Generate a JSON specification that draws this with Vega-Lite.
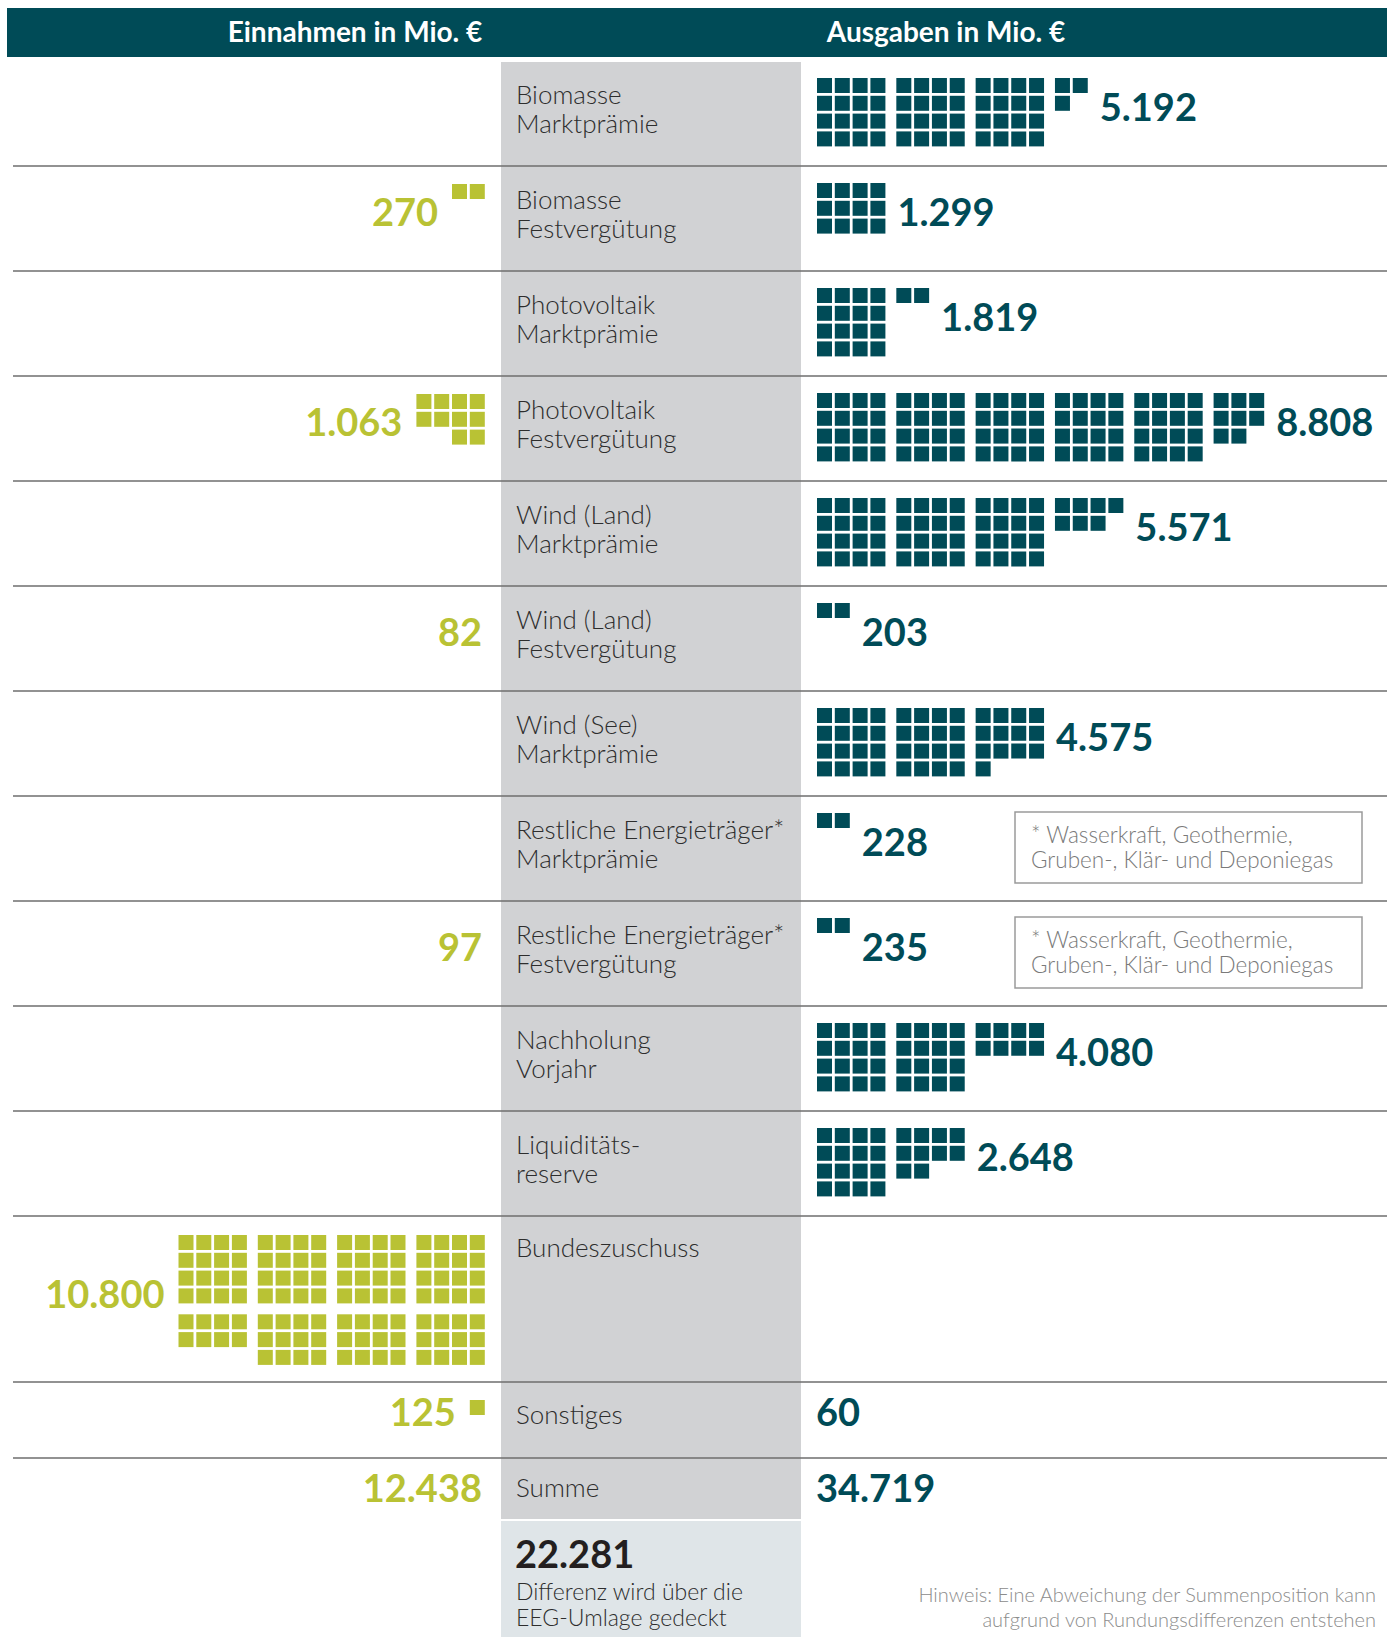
{
"$schema":"https://vega.github.io/schema/vega-lite/v6.json",
"padding":0,
"spacing":0,
"background":"white",
"config":{"view":{"stroke":null},"font":"Lato","concat":{"spacing":0},"facet":{"spacing":0},"locale":{"number":{"decimal":",","thousands":".","grouping":[3],"currency":["","€"]}}},
"datasets":{
"d":[
{"t":"head","k":"HEAD","h":"Einnahmen in Mio. €"},{"t":"head","k":"HEAD","h":"Ausgaben in Mio. €"},
{"t":"lab","k":"BMM","lab":"Biomasse\nMarktprämie","aus":5192},
{"t":"lab","k":"BMF","lab":"Biomasse\nFestvergütung","ein":270,"aus":1299},
{"t":"lab","k":"PVM","lab":"Photovoltaik\nMarktprämie","aus":1819},
{"t":"lab","k":"PVF","lab":"Photovoltaik\nFestvergütung","ein":1063,"aus":8808},
{"t":"lab","k":"WLM","lab":"Wind (Land)\nMarktprämie","aus":5571},
{"t":"lab","k":"WLF","lab":"Wind (Land)\nFestvergütung","ein":82,"aus":203},
{"t":"lab","k":"WSM","lab":"Wind (See)\nMarktprämie","aus":4575},
{"t":"lab","k":"REM","lab":"Restliche Energieträger*\nMarktprämie","aus":228,"note":"* Wasserkraft, Geothermie,\nGruben-, Klär- und Deponiegas"},
{"t":"lab","k":"REF","lab":"Restliche Energieträger*\nFestvergütung","ein":97,"aus":235,"note":"* Wasserkraft, Geothermie,\nGruben-, Klär- und Deponiegas"},
{"t":"lab","k":"NV","lab":"Nachholung\nVorjahr","aus":4080},
{"t":"lab","k":"LR","lab":" Liquiditäts-\n reserve","aus":2648},
{"t":"lab","k":"BZ","lab":"Bundeszuschuss","ein":10800},
{"t":"lab","k":"SON","lab":"Sonstiges","ein":125,"aus":60},
{"t":"lab","k":"SUM","lab":"Summe","ein":12438,"aus":34719},
{"t":"lab","k":"DIF","lab":"Differenz wird über die\nEEG-Umlage gedeckt","aus":22281,"note":"Hinweis: Eine Abweichung der Summenposition kann\naufgrund von Rundungsdifferenzen entstehen"},

{"k":"BMM","s":"o","b":0,"r":0,"c":0},{"k":"BMM","s":"o","b":0,"r":0,"c":1},{"k":"BMM","s":"o","b":0,"r":0,"c":2},{"k":"BMM","s":"o","b":0,"r":0,"c":3},
{"k":"BMM","s":"o","b":0,"r":1,"c":0},{"k":"BMM","s":"o","b":0,"r":1,"c":1},{"k":"BMM","s":"o","b":0,"r":1,"c":2},{"k":"BMM","s":"o","b":0,"r":1,"c":3},
{"k":"BMM","s":"o","b":0,"r":2,"c":0},{"k":"BMM","s":"o","b":0,"r":2,"c":1},{"k":"BMM","s":"o","b":0,"r":2,"c":2},{"k":"BMM","s":"o","b":0,"r":2,"c":3},
{"k":"BMM","s":"o","b":0,"r":3,"c":0},{"k":"BMM","s":"o","b":0,"r":3,"c":1},{"k":"BMM","s":"o","b":0,"r":3,"c":2},{"k":"BMM","s":"o","b":0,"r":3,"c":3},
{"k":"BMM","s":"o","b":1,"r":0,"c":0},{"k":"BMM","s":"o","b":1,"r":0,"c":1},{"k":"BMM","s":"o","b":1,"r":0,"c":2},{"k":"BMM","s":"o","b":1,"r":0,"c":3},
{"k":"BMM","s":"o","b":1,"r":1,"c":0},{"k":"BMM","s":"o","b":1,"r":1,"c":1},{"k":"BMM","s":"o","b":1,"r":1,"c":2},{"k":"BMM","s":"o","b":1,"r":1,"c":3},
{"k":"BMM","s":"o","b":1,"r":2,"c":0},{"k":"BMM","s":"o","b":1,"r":2,"c":1},{"k":"BMM","s":"o","b":1,"r":2,"c":2},{"k":"BMM","s":"o","b":1,"r":2,"c":3},
{"k":"BMM","s":"o","b":1,"r":3,"c":0},{"k":"BMM","s":"o","b":1,"r":3,"c":1},{"k":"BMM","s":"o","b":1,"r":3,"c":2},{"k":"BMM","s":"o","b":1,"r":3,"c":3},
{"k":"BMM","s":"o","b":2,"r":0,"c":0},{"k":"BMM","s":"o","b":2,"r":0,"c":1},{"k":"BMM","s":"o","b":2,"r":0,"c":2},{"k":"BMM","s":"o","b":2,"r":0,"c":3},
{"k":"BMM","s":"o","b":2,"r":1,"c":0},{"k":"BMM","s":"o","b":2,"r":1,"c":1},{"k":"BMM","s":"o","b":2,"r":1,"c":2},{"k":"BMM","s":"o","b":2,"r":1,"c":3},
{"k":"BMM","s":"o","b":2,"r":2,"c":0},{"k":"BMM","s":"o","b":2,"r":2,"c":1},{"k":"BMM","s":"o","b":2,"r":2,"c":2},{"k":"BMM","s":"o","b":2,"r":2,"c":3},
{"k":"BMM","s":"o","b":2,"r":3,"c":0},{"k":"BMM","s":"o","b":2,"r":3,"c":1},{"k":"BMM","s":"o","b":2,"r":3,"c":2},{"k":"BMM","s":"o","b":2,"r":3,"c":3},
{"k":"BMM","s":"o","b":3,"r":0,"c":0},{"k":"BMM","s":"o","b":3,"r":0,"c":1},{"k":"BMM","s":"o","b":3,"r":1,"c":0},

{"k":"BMF","s":"o","b":0,"r":0,"c":0},{"k":"BMF","s":"o","b":0,"r":0,"c":1},{"k":"BMF","s":"o","b":0,"r":0,"c":2},{"k":"BMF","s":"o","b":0,"r":0,"c":3},
{"k":"BMF","s":"o","b":0,"r":1,"c":0},{"k":"BMF","s":"o","b":0,"r":1,"c":1},{"k":"BMF","s":"o","b":0,"r":1,"c":2},{"k":"BMF","s":"o","b":0,"r":1,"c":3},
{"k":"BMF","s":"o","b":0,"r":2,"c":0},{"k":"BMF","s":"o","b":0,"r":2,"c":1},{"k":"BMF","s":"o","b":0,"r":2,"c":2},{"k":"BMF","s":"o","b":0,"r":2,"c":3},

{"k":"PVM","s":"o","b":0,"r":0,"c":0},{"k":"PVM","s":"o","b":0,"r":0,"c":1},{"k":"PVM","s":"o","b":0,"r":0,"c":2},{"k":"PVM","s":"o","b":0,"r":0,"c":3},
{"k":"PVM","s":"o","b":0,"r":1,"c":0},{"k":"PVM","s":"o","b":0,"r":1,"c":1},{"k":"PVM","s":"o","b":0,"r":1,"c":2},{"k":"PVM","s":"o","b":0,"r":1,"c":3},
{"k":"PVM","s":"o","b":0,"r":2,"c":0},{"k":"PVM","s":"o","b":0,"r":2,"c":1},{"k":"PVM","s":"o","b":0,"r":2,"c":2},{"k":"PVM","s":"o","b":0,"r":2,"c":3},
{"k":"PVM","s":"o","b":0,"r":3,"c":0},{"k":"PVM","s":"o","b":0,"r":3,"c":1},{"k":"PVM","s":"o","b":0,"r":3,"c":2},{"k":"PVM","s":"o","b":0,"r":3,"c":3},
{"k":"PVM","s":"o","b":1,"r":0,"c":0},{"k":"PVM","s":"o","b":1,"r":0,"c":1},

{"k":"PVF","s":"o","b":0,"r":0,"c":0},{"k":"PVF","s":"o","b":0,"r":0,"c":1},{"k":"PVF","s":"o","b":0,"r":0,"c":2},{"k":"PVF","s":"o","b":0,"r":0,"c":3},
{"k":"PVF","s":"o","b":0,"r":1,"c":0},{"k":"PVF","s":"o","b":0,"r":1,"c":1},{"k":"PVF","s":"o","b":0,"r":1,"c":2},{"k":"PVF","s":"o","b":0,"r":1,"c":3},
{"k":"PVF","s":"o","b":0,"r":2,"c":0},{"k":"PVF","s":"o","b":0,"r":2,"c":1},{"k":"PVF","s":"o","b":0,"r":2,"c":2},{"k":"PVF","s":"o","b":0,"r":2,"c":3},
{"k":"PVF","s":"o","b":0,"r":3,"c":0},{"k":"PVF","s":"o","b":0,"r":3,"c":1},{"k":"PVF","s":"o","b":0,"r":3,"c":2},{"k":"PVF","s":"o","b":0,"r":3,"c":3},
{"k":"PVF","s":"o","b":1,"r":0,"c":0},{"k":"PVF","s":"o","b":1,"r":0,"c":1},{"k":"PVF","s":"o","b":1,"r":0,"c":2},{"k":"PVF","s":"o","b":1,"r":0,"c":3},
{"k":"PVF","s":"o","b":1,"r":1,"c":0},{"k":"PVF","s":"o","b":1,"r":1,"c":1},{"k":"PVF","s":"o","b":1,"r":1,"c":2},{"k":"PVF","s":"o","b":1,"r":1,"c":3},
{"k":"PVF","s":"o","b":1,"r":2,"c":0},{"k":"PVF","s":"o","b":1,"r":2,"c":1},{"k":"PVF","s":"o","b":1,"r":2,"c":2},{"k":"PVF","s":"o","b":1,"r":2,"c":3},
{"k":"PVF","s":"o","b":1,"r":3,"c":0},{"k":"PVF","s":"o","b":1,"r":3,"c":1},{"k":"PVF","s":"o","b":1,"r":3,"c":2},{"k":"PVF","s":"o","b":1,"r":3,"c":3},
{"k":"PVF","s":"o","b":2,"r":0,"c":0},{"k":"PVF","s":"o","b":2,"r":0,"c":1},{"k":"PVF","s":"o","b":2,"r":0,"c":2},{"k":"PVF","s":"o","b":2,"r":0,"c":3},
{"k":"PVF","s":"o","b":2,"r":1,"c":0},{"k":"PVF","s":"o","b":2,"r":1,"c":1},{"k":"PVF","s":"o","b":2,"r":1,"c":2},{"k":"PVF","s":"o","b":2,"r":1,"c":3},
{"k":"PVF","s":"o","b":2,"r":2,"c":0},{"k":"PVF","s":"o","b":2,"r":2,"c":1},{"k":"PVF","s":"o","b":2,"r":2,"c":2},{"k":"PVF","s":"o","b":2,"r":2,"c":3},
{"k":"PVF","s":"o","b":2,"r":3,"c":0},{"k":"PVF","s":"o","b":2,"r":3,"c":1},{"k":"PVF","s":"o","b":2,"r":3,"c":2},{"k":"PVF","s":"o","b":2,"r":3,"c":3},
{"k":"PVF","s":"o","b":3,"r":0,"c":0},{"k":"PVF","s":"o","b":3,"r":0,"c":1},{"k":"PVF","s":"o","b":3,"r":0,"c":2},{"k":"PVF","s":"o","b":3,"r":0,"c":3},
{"k":"PVF","s":"o","b":3,"r":1,"c":0},{"k":"PVF","s":"o","b":3,"r":1,"c":1},{"k":"PVF","s":"o","b":3,"r":1,"c":2},{"k":"PVF","s":"o","b":3,"r":1,"c":3},
{"k":"PVF","s":"o","b":3,"r":2,"c":0},{"k":"PVF","s":"o","b":3,"r":2,"c":1},{"k":"PVF","s":"o","b":3,"r":2,"c":2},{"k":"PVF","s":"o","b":3,"r":2,"c":3},
{"k":"PVF","s":"o","b":3,"r":3,"c":0},{"k":"PVF","s":"o","b":3,"r":3,"c":1},{"k":"PVF","s":"o","b":3,"r":3,"c":2},{"k":"PVF","s":"o","b":3,"r":3,"c":3},
{"k":"PVF","s":"o","b":4,"r":0,"c":0},{"k":"PVF","s":"o","b":4,"r":0,"c":1},{"k":"PVF","s":"o","b":4,"r":0,"c":2},{"k":"PVF","s":"o","b":4,"r":0,"c":3},
{"k":"PVF","s":"o","b":4,"r":1,"c":0},{"k":"PVF","s":"o","b":4,"r":1,"c":1},{"k":"PVF","s":"o","b":4,"r":1,"c":2},{"k":"PVF","s":"o","b":4,"r":1,"c":3},
{"k":"PVF","s":"o","b":4,"r":2,"c":0},{"k":"PVF","s":"o","b":4,"r":2,"c":1},{"k":"PVF","s":"o","b":4,"r":2,"c":2},{"k":"PVF","s":"o","b":4,"r":2,"c":3},
{"k":"PVF","s":"o","b":4,"r":3,"c":0},{"k":"PVF","s":"o","b":4,"r":3,"c":1},{"k":"PVF","s":"o","b":4,"r":3,"c":2},{"k":"PVF","s":"o","b":4,"r":3,"c":3},
{"k":"PVF","s":"o","b":5,"r":0,"c":0},{"k":"PVF","s":"o","b":5,"r":0,"c":1},{"k":"PVF","s":"o","b":5,"r":0,"c":2},
{"k":"PVF","s":"o","b":5,"r":1,"c":0},{"k":"PVF","s":"o","b":5,"r":1,"c":1},{"k":"PVF","s":"o","b":5,"r":1,"c":2},
{"k":"PVF","s":"o","b":5,"r":2,"c":0},{"k":"PVF","s":"o","b":5,"r":2,"c":1},

{"k":"WLM","s":"o","b":0,"r":0,"c":0},{"k":"WLM","s":"o","b":0,"r":0,"c":1},{"k":"WLM","s":"o","b":0,"r":0,"c":2},{"k":"WLM","s":"o","b":0,"r":0,"c":3},
{"k":"WLM","s":"o","b":0,"r":1,"c":0},{"k":"WLM","s":"o","b":0,"r":1,"c":1},{"k":"WLM","s":"o","b":0,"r":1,"c":2},{"k":"WLM","s":"o","b":0,"r":1,"c":3},
{"k":"WLM","s":"o","b":0,"r":2,"c":0},{"k":"WLM","s":"o","b":0,"r":2,"c":1},{"k":"WLM","s":"o","b":0,"r":2,"c":2},{"k":"WLM","s":"o","b":0,"r":2,"c":3},
{"k":"WLM","s":"o","b":0,"r":3,"c":0},{"k":"WLM","s":"o","b":0,"r":3,"c":1},{"k":"WLM","s":"o","b":0,"r":3,"c":2},{"k":"WLM","s":"o","b":0,"r":3,"c":3},
{"k":"WLM","s":"o","b":1,"r":0,"c":0},{"k":"WLM","s":"o","b":1,"r":0,"c":1},{"k":"WLM","s":"o","b":1,"r":0,"c":2},{"k":"WLM","s":"o","b":1,"r":0,"c":3},
{"k":"WLM","s":"o","b":1,"r":1,"c":0},{"k":"WLM","s":"o","b":1,"r":1,"c":1},{"k":"WLM","s":"o","b":1,"r":1,"c":2},{"k":"WLM","s":"o","b":1,"r":1,"c":3},
{"k":"WLM","s":"o","b":1,"r":2,"c":0},{"k":"WLM","s":"o","b":1,"r":2,"c":1},{"k":"WLM","s":"o","b":1,"r":2,"c":2},{"k":"WLM","s":"o","b":1,"r":2,"c":3},
{"k":"WLM","s":"o","b":1,"r":3,"c":0},{"k":"WLM","s":"o","b":1,"r":3,"c":1},{"k":"WLM","s":"o","b":1,"r":3,"c":2},{"k":"WLM","s":"o","b":1,"r":3,"c":3},
{"k":"WLM","s":"o","b":2,"r":0,"c":0},{"k":"WLM","s":"o","b":2,"r":0,"c":1},{"k":"WLM","s":"o","b":2,"r":0,"c":2},{"k":"WLM","s":"o","b":2,"r":0,"c":3},
{"k":"WLM","s":"o","b":2,"r":1,"c":0},{"k":"WLM","s":"o","b":2,"r":1,"c":1},{"k":"WLM","s":"o","b":2,"r":1,"c":2},{"k":"WLM","s":"o","b":2,"r":1,"c":3},
{"k":"WLM","s":"o","b":2,"r":2,"c":0},{"k":"WLM","s":"o","b":2,"r":2,"c":1},{"k":"WLM","s":"o","b":2,"r":2,"c":2},{"k":"WLM","s":"o","b":2,"r":2,"c":3},
{"k":"WLM","s":"o","b":2,"r":3,"c":0},{"k":"WLM","s":"o","b":2,"r":3,"c":1},{"k":"WLM","s":"o","b":2,"r":3,"c":2},{"k":"WLM","s":"o","b":2,"r":3,"c":3},
{"k":"WLM","s":"o","b":3,"r":0,"c":0},{"k":"WLM","s":"o","b":3,"r":0,"c":1},{"k":"WLM","s":"o","b":3,"r":0,"c":2},{"k":"WLM","s":"o","b":3,"r":0,"c":3},
{"k":"WLM","s":"o","b":3,"r":1,"c":0},{"k":"WLM","s":"o","b":3,"r":1,"c":1},{"k":"WLM","s":"o","b":3,"r":1,"c":2},

{"k":"WLF","s":"o","b":0,"r":0,"c":0},{"k":"WLF","s":"o","b":0,"r":0,"c":1},

{"k":"WSM","s":"o","b":0,"r":0,"c":0},{"k":"WSM","s":"o","b":0,"r":0,"c":1},{"k":"WSM","s":"o","b":0,"r":0,"c":2},{"k":"WSM","s":"o","b":0,"r":0,"c":3},
{"k":"WSM","s":"o","b":0,"r":1,"c":0},{"k":"WSM","s":"o","b":0,"r":1,"c":1},{"k":"WSM","s":"o","b":0,"r":1,"c":2},{"k":"WSM","s":"o","b":0,"r":1,"c":3},
{"k":"WSM","s":"o","b":0,"r":2,"c":0},{"k":"WSM","s":"o","b":0,"r":2,"c":1},{"k":"WSM","s":"o","b":0,"r":2,"c":2},{"k":"WSM","s":"o","b":0,"r":2,"c":3},
{"k":"WSM","s":"o","b":0,"r":3,"c":0},{"k":"WSM","s":"o","b":0,"r":3,"c":1},{"k":"WSM","s":"o","b":0,"r":3,"c":2},{"k":"WSM","s":"o","b":0,"r":3,"c":3},
{"k":"WSM","s":"o","b":1,"r":0,"c":0},{"k":"WSM","s":"o","b":1,"r":0,"c":1},{"k":"WSM","s":"o","b":1,"r":0,"c":2},{"k":"WSM","s":"o","b":1,"r":0,"c":3},
{"k":"WSM","s":"o","b":1,"r":1,"c":0},{"k":"WSM","s":"o","b":1,"r":1,"c":1},{"k":"WSM","s":"o","b":1,"r":1,"c":2},{"k":"WSM","s":"o","b":1,"r":1,"c":3},
{"k":"WSM","s":"o","b":1,"r":2,"c":0},{"k":"WSM","s":"o","b":1,"r":2,"c":1},{"k":"WSM","s":"o","b":1,"r":2,"c":2},{"k":"WSM","s":"o","b":1,"r":2,"c":3},
{"k":"WSM","s":"o","b":1,"r":3,"c":0},{"k":"WSM","s":"o","b":1,"r":3,"c":1},{"k":"WSM","s":"o","b":1,"r":3,"c":2},{"k":"WSM","s":"o","b":1,"r":3,"c":3},
{"k":"WSM","s":"o","b":2,"r":0,"c":0},{"k":"WSM","s":"o","b":2,"r":0,"c":1},{"k":"WSM","s":"o","b":2,"r":0,"c":2},{"k":"WSM","s":"o","b":2,"r":0,"c":3},
{"k":"WSM","s":"o","b":2,"r":1,"c":0},{"k":"WSM","s":"o","b":2,"r":1,"c":1},{"k":"WSM","s":"o","b":2,"r":1,"c":2},{"k":"WSM","s":"o","b":2,"r":1,"c":3},
{"k":"WSM","s":"o","b":2,"r":2,"c":0},{"k":"WSM","s":"o","b":2,"r":2,"c":1},{"k":"WSM","s":"o","b":2,"r":2,"c":2},{"k":"WSM","s":"o","b":2,"r":2,"c":3},
{"k":"WSM","s":"o","b":2,"r":3,"c":0},

{"k":"REM","s":"o","b":0,"r":0,"c":0},{"k":"REM","s":"o","b":0,"r":0,"c":1},
{"k":"REF","s":"o","b":0,"r":0,"c":0},{"k":"REF","s":"o","b":0,"r":0,"c":1},

{"k":"NV","s":"o","b":0,"r":0,"c":0},{"k":"NV","s":"o","b":0,"r":0,"c":1},{"k":"NV","s":"o","b":0,"r":0,"c":2},{"k":"NV","s":"o","b":0,"r":0,"c":3},
{"k":"NV","s":"o","b":0,"r":1,"c":0},{"k":"NV","s":"o","b":0,"r":1,"c":1},{"k":"NV","s":"o","b":0,"r":1,"c":2},{"k":"NV","s":"o","b":0,"r":1,"c":3},
{"k":"NV","s":"o","b":0,"r":2,"c":0},{"k":"NV","s":"o","b":0,"r":2,"c":1},{"k":"NV","s":"o","b":0,"r":2,"c":2},{"k":"NV","s":"o","b":0,"r":2,"c":3},
{"k":"NV","s":"o","b":0,"r":3,"c":0},{"k":"NV","s":"o","b":0,"r":3,"c":1},{"k":"NV","s":"o","b":0,"r":3,"c":2},{"k":"NV","s":"o","b":0,"r":3,"c":3},
{"k":"NV","s":"o","b":1,"r":0,"c":0},{"k":"NV","s":"o","b":1,"r":0,"c":1},{"k":"NV","s":"o","b":1,"r":0,"c":2},{"k":"NV","s":"o","b":1,"r":0,"c":3},
{"k":"NV","s":"o","b":1,"r":1,"c":0},{"k":"NV","s":"o","b":1,"r":1,"c":1},{"k":"NV","s":"o","b":1,"r":1,"c":2},{"k":"NV","s":"o","b":1,"r":1,"c":3},
{"k":"NV","s":"o","b":1,"r":2,"c":0},{"k":"NV","s":"o","b":1,"r":2,"c":1},{"k":"NV","s":"o","b":1,"r":2,"c":2},{"k":"NV","s":"o","b":1,"r":2,"c":3},
{"k":"NV","s":"o","b":1,"r":3,"c":0},{"k":"NV","s":"o","b":1,"r":3,"c":1},{"k":"NV","s":"o","b":1,"r":3,"c":2},{"k":"NV","s":"o","b":1,"r":3,"c":3},
{"k":"NV","s":"o","b":2,"r":0,"c":0},{"k":"NV","s":"o","b":2,"r":0,"c":1},{"k":"NV","s":"o","b":2,"r":0,"c":2},{"k":"NV","s":"o","b":2,"r":0,"c":3},
{"k":"NV","s":"o","b":2,"r":1,"c":0},{"k":"NV","s":"o","b":2,"r":1,"c":1},{"k":"NV","s":"o","b":2,"r":1,"c":2},{"k":"NV","s":"o","b":2,"r":1,"c":3},

{"k":"LR","s":"o","b":0,"r":0,"c":0},{"k":"LR","s":"o","b":0,"r":0,"c":1},{"k":"LR","s":"o","b":0,"r":0,"c":2},{"k":"LR","s":"o","b":0,"r":0,"c":3},
{"k":"LR","s":"o","b":0,"r":1,"c":0},{"k":"LR","s":"o","b":0,"r":1,"c":1},{"k":"LR","s":"o","b":0,"r":1,"c":2},{"k":"LR","s":"o","b":0,"r":1,"c":3},
{"k":"LR","s":"o","b":0,"r":2,"c":0},{"k":"LR","s":"o","b":0,"r":2,"c":1},{"k":"LR","s":"o","b":0,"r":2,"c":2},{"k":"LR","s":"o","b":0,"r":2,"c":3},
{"k":"LR","s":"o","b":0,"r":3,"c":0},{"k":"LR","s":"o","b":0,"r":3,"c":1},{"k":"LR","s":"o","b":0,"r":3,"c":2},{"k":"LR","s":"o","b":0,"r":3,"c":3},
{"k":"LR","s":"o","b":1,"r":0,"c":0},{"k":"LR","s":"o","b":1,"r":0,"c":1},{"k":"LR","s":"o","b":1,"r":0,"c":2},{"k":"LR","s":"o","b":1,"r":0,"c":3},
{"k":"LR","s":"o","b":1,"r":1,"c":0},{"k":"LR","s":"o","b":1,"r":1,"c":1},{"k":"LR","s":"o","b":1,"r":1,"c":2},{"k":"LR","s":"o","b":1,"r":1,"c":3},
{"k":"LR","s":"o","b":1,"r":2,"c":0},{"k":"LR","s":"o","b":1,"r":2,"c":1},

{"k":"BMF","s":"i","b":0,"r":0,"c":2},{"k":"BMF","s":"i","b":0,"r":0,"c":3},

{"k":"PVF","s":"i","b":0,"r":0,"c":0},{"k":"PVF","s":"i","b":0,"r":0,"c":1},{"k":"PVF","s":"i","b":0,"r":0,"c":2},{"k":"PVF","s":"i","b":0,"r":0,"c":3},
{"k":"PVF","s":"i","b":0,"r":1,"c":0},{"k":"PVF","s":"i","b":0,"r":1,"c":1},{"k":"PVF","s":"i","b":0,"r":1,"c":2},{"k":"PVF","s":"i","b":0,"r":1,"c":3},
{"k":"PVF","s":"i","b":0,"r":2,"c":2},{"k":"PVF","s":"i","b":0,"r":2,"c":3},

{"k":"BZ","s":"i","g":0,"b":0,"r":0,"c":0},{"k":"BZ","s":"i","g":0,"b":0,"r":0,"c":1},{"k":"BZ","s":"i","g":0,"b":0,"r":0,"c":2},{"k":"BZ","s":"i","g":0,"b":0,"r":0,"c":3},
{"k":"BZ","s":"i","g":0,"b":0,"r":1,"c":0},{"k":"BZ","s":"i","g":0,"b":0,"r":1,"c":1},{"k":"BZ","s":"i","g":0,"b":0,"r":1,"c":2},{"k":"BZ","s":"i","g":0,"b":0,"r":1,"c":3},
{"k":"BZ","s":"i","g":0,"b":0,"r":2,"c":0},{"k":"BZ","s":"i","g":0,"b":0,"r":2,"c":1},{"k":"BZ","s":"i","g":0,"b":0,"r":2,"c":2},{"k":"BZ","s":"i","g":0,"b":0,"r":2,"c":3},
{"k":"BZ","s":"i","g":0,"b":0,"r":3,"c":0},{"k":"BZ","s":"i","g":0,"b":0,"r":3,"c":1},{"k":"BZ","s":"i","g":0,"b":0,"r":3,"c":2},{"k":"BZ","s":"i","g":0,"b":0,"r":3,"c":3},
{"k":"BZ","s":"i","g":0,"b":1,"r":0,"c":0},{"k":"BZ","s":"i","g":0,"b":1,"r":0,"c":1},{"k":"BZ","s":"i","g":0,"b":1,"r":0,"c":2},{"k":"BZ","s":"i","g":0,"b":1,"r":0,"c":3},
{"k":"BZ","s":"i","g":0,"b":1,"r":1,"c":0},{"k":"BZ","s":"i","g":0,"b":1,"r":1,"c":1},{"k":"BZ","s":"i","g":0,"b":1,"r":1,"c":2},{"k":"BZ","s":"i","g":0,"b":1,"r":1,"c":3},
{"k":"BZ","s":"i","g":0,"b":1,"r":2,"c":0},{"k":"BZ","s":"i","g":0,"b":1,"r":2,"c":1},{"k":"BZ","s":"i","g":0,"b":1,"r":2,"c":2},{"k":"BZ","s":"i","g":0,"b":1,"r":2,"c":3},
{"k":"BZ","s":"i","g":0,"b":1,"r":3,"c":0},{"k":"BZ","s":"i","g":0,"b":1,"r":3,"c":1},{"k":"BZ","s":"i","g":0,"b":1,"r":3,"c":2},{"k":"BZ","s":"i","g":0,"b":1,"r":3,"c":3},
{"k":"BZ","s":"i","g":0,"b":2,"r":0,"c":0},{"k":"BZ","s":"i","g":0,"b":2,"r":0,"c":1},{"k":"BZ","s":"i","g":0,"b":2,"r":0,"c":2},{"k":"BZ","s":"i","g":0,"b":2,"r":0,"c":3},
{"k":"BZ","s":"i","g":0,"b":2,"r":1,"c":0},{"k":"BZ","s":"i","g":0,"b":2,"r":1,"c":1},{"k":"BZ","s":"i","g":0,"b":2,"r":1,"c":2},{"k":"BZ","s":"i","g":0,"b":2,"r":1,"c":3},
{"k":"BZ","s":"i","g":0,"b":2,"r":2,"c":0},{"k":"BZ","s":"i","g":0,"b":2,"r":2,"c":1},{"k":"BZ","s":"i","g":0,"b":2,"r":2,"c":2},{"k":"BZ","s":"i","g":0,"b":2,"r":2,"c":3},
{"k":"BZ","s":"i","g":0,"b":2,"r":3,"c":0},{"k":"BZ","s":"i","g":0,"b":2,"r":3,"c":1},{"k":"BZ","s":"i","g":0,"b":2,"r":3,"c":2},{"k":"BZ","s":"i","g":0,"b":2,"r":3,"c":3},
{"k":"BZ","s":"i","g":0,"b":3,"r":0,"c":0},{"k":"BZ","s":"i","g":0,"b":3,"r":0,"c":1},{"k":"BZ","s":"i","g":0,"b":3,"r":0,"c":2},{"k":"BZ","s":"i","g":0,"b":3,"r":0,"c":3},
{"k":"BZ","s":"i","g":0,"b":3,"r":1,"c":0},{"k":"BZ","s":"i","g":0,"b":3,"r":1,"c":1},{"k":"BZ","s":"i","g":0,"b":3,"r":1,"c":2},{"k":"BZ","s":"i","g":0,"b":3,"r":1,"c":3},
{"k":"BZ","s":"i","g":0,"b":3,"r":2,"c":0},{"k":"BZ","s":"i","g":0,"b":3,"r":2,"c":1},{"k":"BZ","s":"i","g":0,"b":3,"r":2,"c":2},{"k":"BZ","s":"i","g":0,"b":3,"r":2,"c":3},
{"k":"BZ","s":"i","g":0,"b":3,"r":3,"c":0},{"k":"BZ","s":"i","g":0,"b":3,"r":3,"c":1},{"k":"BZ","s":"i","g":0,"b":3,"r":3,"c":2},{"k":"BZ","s":"i","g":0,"b":3,"r":3,"c":3},
{"k":"BZ","s":"i","g":1,"b":3,"r":0,"c":0},{"k":"BZ","s":"i","g":1,"b":3,"r":0,"c":1},{"k":"BZ","s":"i","g":1,"b":3,"r":0,"c":2},{"k":"BZ","s":"i","g":1,"b":3,"r":0,"c":3},
{"k":"BZ","s":"i","g":1,"b":3,"r":1,"c":0},{"k":"BZ","s":"i","g":1,"b":3,"r":1,"c":1},{"k":"BZ","s":"i","g":1,"b":3,"r":1,"c":2},{"k":"BZ","s":"i","g":1,"b":3,"r":1,"c":3},
{"k":"BZ","s":"i","g":1,"b":2,"r":0,"c":0},{"k":"BZ","s":"i","g":1,"b":2,"r":0,"c":1},{"k":"BZ","s":"i","g":1,"b":2,"r":0,"c":2},{"k":"BZ","s":"i","g":1,"b":2,"r":0,"c":3},
{"k":"BZ","s":"i","g":1,"b":2,"r":1,"c":0},{"k":"BZ","s":"i","g":1,"b":2,"r":1,"c":1},{"k":"BZ","s":"i","g":1,"b":2,"r":1,"c":2},{"k":"BZ","s":"i","g":1,"b":2,"r":1,"c":3},
{"k":"BZ","s":"i","g":1,"b":2,"r":2,"c":0},{"k":"BZ","s":"i","g":1,"b":2,"r":2,"c":1},{"k":"BZ","s":"i","g":1,"b":2,"r":2,"c":2},{"k":"BZ","s":"i","g":1,"b":2,"r":2,"c":3},
{"k":"BZ","s":"i","g":1,"b":1,"r":0,"c":0},{"k":"BZ","s":"i","g":1,"b":1,"r":0,"c":1},{"k":"BZ","s":"i","g":1,"b":1,"r":0,"c":2},{"k":"BZ","s":"i","g":1,"b":1,"r":0,"c":3},
{"k":"BZ","s":"i","g":1,"b":1,"r":1,"c":0},{"k":"BZ","s":"i","g":1,"b":1,"r":1,"c":1},{"k":"BZ","s":"i","g":1,"b":1,"r":1,"c":2},{"k":"BZ","s":"i","g":1,"b":1,"r":1,"c":3},
{"k":"BZ","s":"i","g":1,"b":1,"r":2,"c":0},{"k":"BZ","s":"i","g":1,"b":1,"r":2,"c":1},{"k":"BZ","s":"i","g":1,"b":1,"r":2,"c":2},{"k":"BZ","s":"i","g":1,"b":1,"r":2,"c":3},
{"k":"BZ","s":"i","g":1,"b":0,"r":0,"c":0},{"k":"BZ","s":"i","g":1,"b":0,"r":0,"c":1},{"k":"BZ","s":"i","g":1,"b":0,"r":0,"c":2},{"k":"BZ","s":"i","g":1,"b":0,"r":0,"c":3},
{"k":"BZ","s":"i","g":1,"b":0,"r":1,"c":0},{"k":"BZ","s":"i","g":1,"b":0,"r":1,"c":1},{"k":"BZ","s":"i","g":1,"b":0,"r":1,"c":2},{"k":"BZ","s":"i","g":1,"b":0,"r":1,"c":3},
{"k":"BZ","s":"i","g":1,"b":0,"r":2,"c":0},{"k":"BZ","s":"i","g":1,"b":0,"r":2,"c":1},{"k":"BZ","s":"i","g":1,"b":0,"r":2,"c":2},{"k":"BZ","s":"i","g":1,"b":0,"r":2,"c":3},

{"k":"SON","s":"i","b":0,"r":0,"c":3}
]},
"vconcat":[
{"data":{"name":"d"},"transform":[{"filter":"datum.t==='head'"}],"width":1387,"height":62,
"layer":[
{"mark":{"type":"rect","color":"#004b57"},"encoding":{"x":{"field":"t","type":"nominal","scale":{"domain":["head"],"range":[7,1387],"paddingInner":0,"paddingOuter":0},"axis":null},"y":{"field":"t","type":"nominal","scale":{"domain":["head"],"range":[8,57],"paddingInner":0,"paddingOuter":0},"axis":null}}},
{"mark":{"type":"text","color":"white","fontSize":28,"fontWeight":"bold","align":"center","baseline":"alphabetic"},"encoding":{"x":{"field":"h","type":"nominal","scale":{"type":"point","domain":["Einnahmen in Mio. €","Ausgaben in Mio. €"],"range":[355,946],"padding":0},"axis":null},"y":{"field":"t","type":"nominal","scale":{"type":"point","domain":["head"],"range":[42,42]},"axis":null},"text":{"field":"h"}}}
],
"resolve":{"scale":{"x":"independent","y":"independent"}}},

{"data":{"name":"d"},
"transform":[{"filter":{"field":"k","oneOf":["BMM","BMF","PVM","PVF","WLM","WLF","WSM","REM","REF","NV","LR"]}}],
"facet":{"row":{"field":"k","type":"nominal","sort":["BMM","BMF","PVM","PVF","WLM","WLF","WSM","REM","REF","NV","LR"],"header":{"title":null,"labels":false}}},
"spacing":{"row":0},
"spec":{"width":1387,"height":105,
"layer":[
{"transform":[{"filter":"datum.t==='lab'"}],"mark":{"type":"rect","color":"#d1d2d4"},"encoding":{"x":{"field":"t","type":"nominal","scale":{"domain":["lab"],"range":[501,801],"paddingInner":0,"paddingOuter":0},"axis":null}}},
{"transform":[{"filter":"datum.t==='lab'"}],"mark":{"type":"rule","color":"#6e6e6e","strokeWidth":1.5},"encoding":{"x":{"datum":"a","type":"nominal","scale":{"type":"point","domain":["a","b"],"range":[13,1387],"padding":0},"axis":null},"x2":{"datum":"b"},"y":{"field":"t","type":"nominal","scale":{"type":"point","domain":["lab"],"range":[104,104]},"axis":null}}},
{"transform":[{"filter":"datum.s==='o'"}],"mark":{"type":"rect","color":"#004b57"},"encoding":{"x":{"field":"b","type":"ordinal","scale":{"domain":[0,1,2,3,4,5],"range":[817,1282],"paddingInner":0.1375,"paddingOuter":0},"axis":null},"xOffset":{"field":"c","type":"ordinal","scale":{"domain":[0,1,2,3],"paddingInner":0.157,"paddingOuter":0}},"y":{"field":"r","type":"ordinal","scale":{"domain":[0,1,2,3],"range":[16,84.4],"paddingInner":0.157,"paddingOuter":0},"axis":null}}},
{"transform":[{"filter":"datum.s==='i'"}],"mark":{"type":"rect","color":"#b9c234"},"encoding":{"x":{"field":"b","type":"ordinal","scale":{"domain":[3,2,1,0],"range":[178.5,484.8],"paddingInner":0.1375,"paddingOuter":0},"axis":null},"xOffset":{"field":"c","type":"ordinal","scale":{"domain":[0,1,2,3],"paddingInner":0.157,"paddingOuter":0}},"y":{"field":"r","type":"ordinal","scale":{"domain":[0,1,2,3],"range":[17,85.4],"paddingInner":0.157,"paddingOuter":0},"axis":null}}},
{"transform":[{"filter":"datum.t==='lab' || (datum.s==='o' && datum.r===0)"},{"joinaggregate":[{"op":"max","field":"aus","as":"A"}],"groupby":["k"]},{"filter":"datum.s==='o'"},{"window":[{"op":"row_number","as":"rn"}],"groupby":["k"],"sort":[{"field":"b","order":"descending"},{"field":"c","order":"descending"}]},{"filter":"datum.rn===1"}],
"mark":{"type":"text","align":"left","baseline":"alphabetic","fontSize":38,"fontWeight":"bold","color":"#004b57","dx":19.5},
"encoding":{"x":{"field":"b","type":"ordinal","scale":{"domain":[0,1,2,3,4,5],"range":[817,1282],"paddingInner":0.1375,"paddingOuter":0},"axis":null},"xOffset":{"field":"c","type":"ordinal","scale":{"type":"band","domain":[0,1,2,3],"paddingInner":0.157,"paddingOuter":0}},"y":{"field":"r","type":"ordinal","scale":{"type":"point","domain":[0],"range":[59,59]},"axis":null},"text":{"field":"A","type":"quantitative","format":",d"}}},
{"transform":[{"filter":"datum.t==='lab' || (datum.s==='i' && datum.r===0)"},{"joinaggregate":[{"op":"max","field":"ein","as":"E"}],"groupby":["k"]},{"filter":"datum.s==='i'"},{"window":[{"op":"row_number","as":"rn"}],"groupby":["k"],"sort":[{"field":"b","order":"descending"},{"field":"c","order":"ascending"}]},{"filter":"datum.rn===1"}],
"mark":{"type":"text","align":"right","baseline":"alphabetic","fontSize":38,"fontWeight":"bold","color":"#b9c234","dx":-21.5},
"encoding":{"x":{"field":"b","type":"ordinal","scale":{"domain":[3,2,1,0],"range":[178.5,484.8],"paddingInner":0.1375,"paddingOuter":0},"axis":null},"xOffset":{"field":"c","type":"ordinal","scale":{"type":"band","domain":[0,1,2,3],"paddingInner":0.157,"paddingOuter":0}},"y":{"field":"r","type":"ordinal","scale":{"type":"point","domain":[0],"range":[59,59]},"axis":null},"text":{"field":"E","type":"quantitative","format":",d"}}},
{"transform":[{"filter":"datum.t==='lab' && isValid(datum.ein) && datum.ein < 100"}],
"mark":{"type":"text","align":"right","baseline":"alphabetic","fontSize":38,"fontWeight":"bold","color":"#b9c234"},
"encoding":{"x":{"field":"t","type":"nominal","scale":{"type":"point","domain":["lab"],"range":[482,482]},"axis":null},"y":{"field":"t","type":"nominal","scale":{"type":"point","domain":["lab"],"range":[59,59]},"axis":null},"text":{"field":"ein","type":"quantitative","format":",d"}}},
{"transform":[{"filter":"datum.t==='lab'"}],
"mark":{"type":"text","align":"left","baseline":"alphabetic","fontSize":26,"fontWeight":300,"color":"#2d2d2d","lineBreak":"\n","lineHeight":29},
"encoding":{"x":{"field":"t","type":"nominal","scale":{"type":"point","domain":["lab"],"range":[516,516]},"axis":null},"y":{"field":"t","type":"nominal","scale":{"type":"point","domain":["lab"],"range":[42,42]},"axis":null},"text":{"field":"lab"}}},
{"transform":[{"filter":"datum.t==='lab' && isValid(datum.note)"}],"mark":{"type":"rect","fill":"white","stroke":"#9a9a9a","strokeWidth":1.5},
"encoding":{"x":{"field":"t","type":"nominal","scale":{"domain":["lab"],"range":[1015,1362],"paddingInner":0,"paddingOuter":0},"axis":null},"y":{"field":"t","type":"nominal","scale":{"domain":["lab"],"range":[15,86],"paddingInner":0,"paddingOuter":0},"axis":null}}},
{"transform":[{"filter":"datum.t==='lab' && isValid(datum.note)"}],
"mark":{"type":"text","align":"left","baseline":"alphabetic","fontSize":22.5,"fontWeight":300,"color":"#7a7a7a","lineBreak":"\n","lineHeight":25},
"encoding":{"x":{"field":"t","type":"nominal","scale":{"type":"point","domain":["lab"],"range":[1031,1031]},"axis":null},"y":{"field":"t","type":"nominal","scale":{"type":"point","domain":["lab"],"range":[46,46]},"axis":null},"text":{"field":"note"}}}
],
"resolve":{"scale":{"x":"independent","y":"independent","xOffset":"independent"}}}},

{"data":{"name":"d"},"transform":[{"filter":"datum.k==='BZ'"}],"width":1387,"height":166,
"layer":[
{"transform":[{"filter":"datum.t==='lab'"}],"mark":{"type":"rect","color":"#d1d2d4"},"encoding":{"x":{"field":"t","type":"nominal","scale":{"domain":["lab"],"range":[501,801],"paddingInner":0,"paddingOuter":0},"axis":null}}},
{"transform":[{"filter":"datum.t==='lab'"}],"mark":{"type":"rule","color":"#6e6e6e","strokeWidth":1.5},"encoding":{"x":{"datum":"a","type":"nominal","scale":{"type":"point","domain":["a","b"],"range":[13,1387],"padding":0},"axis":null},"x2":{"datum":"b"},"y":{"field":"t","type":"nominal","scale":{"type":"point","domain":["lab"],"range":[165,165]},"axis":null}}},
{"transform":[{"filter":"datum.s==='i'"}],"mark":{"type":"rect","color":"#b9c234"},"encoding":{"x":{"field":"b","type":"ordinal","scale":{"domain":[3,2,1,0],"range":[178.5,484.8],"paddingInner":0.1375,"paddingOuter":0},"axis":null},"xOffset":{"field":"c","type":"ordinal","scale":{"domain":[0,1,2,3],"paddingInner":0.157,"paddingOuter":0}},"y":{"field":"g","type":"ordinal","scale":{"domain":[0,1],"range":[18,165.7],"paddingInner":0.1375,"paddingOuter":0},"axis":null},"yOffset":{"field":"r","type":"ordinal","scale":{"domain":[0,1,2,3],"paddingInner":0.157,"paddingOuter":0}}}},
{"transform":[{"filter":"datum.t==='lab' || (datum.s==='i' && datum.g===0 && datum.r===0)"},{"joinaggregate":[{"op":"max","field":"ein","as":"E"}],"groupby":["k"]},{"filter":"datum.s==='i'"},{"window":[{"op":"row_number","as":"rn"}],"groupby":["k"],"sort":[{"field":"b","order":"descending"},{"field":"c","order":"ascending"}]},{"filter":"datum.rn===1"}],
"mark":{"type":"text","align":"right","baseline":"alphabetic","fontSize":38,"fontWeight":"bold","color":"#b9c234","dx":-21.5},
"encoding":{"x":{"field":"b","type":"ordinal","scale":{"domain":[3,2,1,0],"range":[178.5,484.8],"paddingInner":0.1375,"paddingOuter":0},"axis":null},"xOffset":{"field":"c","type":"ordinal","scale":{"type":"band","domain":[0,1,2,3],"paddingInner":0.157,"paddingOuter":0}},"y":{"field":"r","type":"ordinal","scale":{"type":"point","domain":[0],"range":[91,91]},"axis":null},"text":{"field":"E","type":"quantitative","format":",d"}}},
{"transform":[{"filter":"datum.t==='lab'"}],
"mark":{"type":"text","align":"left","baseline":"alphabetic","fontSize":26,"fontWeight":300,"color":"#2d2d2d"},
"encoding":{"x":{"field":"t","type":"nominal","scale":{"type":"point","domain":["lab"],"range":[516,516]},"axis":null},"y":{"field":"t","type":"nominal","scale":{"type":"point","domain":["lab"],"range":[40,40]},"axis":null},"text":{"field":"lab"}}}
],
"resolve":{"scale":{"x":"independent","y":"independent","xOffset":"independent","yOffset":"independent"}}},

{"data":{"name":"d"},"transform":[{"filter":"datum.k==='SON'"}],"width":1387,"height":76,
"layer":[
{"transform":[{"filter":"datum.t==='lab'"}],"mark":{"type":"rect","color":"#d1d2d4"},"encoding":{"x":{"field":"t","type":"nominal","scale":{"domain":["lab"],"range":[501,801],"paddingInner":0,"paddingOuter":0},"axis":null}}},
{"transform":[{"filter":"datum.t==='lab'"}],"mark":{"type":"rule","color":"#6e6e6e","strokeWidth":1.5},"encoding":{"x":{"datum":"a","type":"nominal","scale":{"type":"point","domain":["a","b"],"range":[13,1387],"padding":0},"axis":null},"x2":{"datum":"b"},"y":{"field":"t","type":"nominal","scale":{"type":"point","domain":["lab"],"range":[75,75]},"axis":null}}},
{"transform":[{"filter":"datum.s==='i'"}],"mark":{"type":"rect","color":"#b9c234"},"encoding":{"x":{"field":"b","type":"ordinal","scale":{"domain":[3,2,1,0],"range":[178.5,484.8],"paddingInner":0.1375,"paddingOuter":0},"axis":null},"xOffset":{"field":"c","type":"ordinal","scale":{"domain":[0,1,2,3],"paddingInner":0.157,"paddingOuter":0}},"y":{"field":"r","type":"ordinal","scale":{"domain":[0,1,2,3],"range":[17,85.4],"paddingInner":0.157,"paddingOuter":0},"axis":null}}},
{"transform":[{"filter":"datum.t==='lab' || (datum.s==='i' && datum.r===0)"},{"joinaggregate":[{"op":"max","field":"ein","as":"E"}],"groupby":["k"]},{"filter":"datum.s==='i'"},{"window":[{"op":"row_number","as":"rn"}],"groupby":["k"],"sort":[{"field":"b","order":"descending"},{"field":"c","order":"ascending"}]},{"filter":"datum.rn===1"}],
"mark":{"type":"text","align":"right","baseline":"alphabetic","fontSize":38,"fontWeight":"bold","color":"#b9c234","dx":-21.5},
"encoding":{"x":{"field":"b","type":"ordinal","scale":{"domain":[3,2,1,0],"range":[178.5,484.8],"paddingInner":0.1375,"paddingOuter":0},"axis":null},"xOffset":{"field":"c","type":"ordinal","scale":{"type":"band","domain":[0,1,2,3],"paddingInner":0.157,"paddingOuter":0}},"y":{"field":"r","type":"ordinal","scale":{"type":"point","domain":[0],"range":[43,43]},"axis":null},"text":{"field":"E","type":"quantitative","format":",d"}}},
{"transform":[{"filter":"datum.t==='lab'"}],
"mark":{"type":"text","align":"left","baseline":"alphabetic","fontSize":26,"fontWeight":300,"color":"#2d2d2d"},
"encoding":{"x":{"field":"t","type":"nominal","scale":{"type":"point","domain":["lab"],"range":[516,516]},"axis":null},"y":{"field":"t","type":"nominal","scale":{"type":"point","domain":["lab"],"range":[41,41]},"axis":null},"text":{"field":"lab"}}},
{"transform":[{"filter":"datum.t==='lab'"}],
"mark":{"type":"text","align":"left","baseline":"alphabetic","fontSize":38,"fontWeight":"bold","color":"#004b57"},
"encoding":{"x":{"field":"t","type":"nominal","scale":{"type":"point","domain":["lab"],"range":[816,816]},"axis":null},"y":{"field":"t","type":"nominal","scale":{"type":"point","domain":["lab"],"range":[43,43]},"axis":null},"text":{"field":"aus","type":"quantitative","format":",d"}}}
],
"resolve":{"scale":{"x":"independent","y":"independent","xOffset":"independent"}}},

{"data":{"name":"d"},"transform":[{"filter":"datum.k==='SUM'"}],"width":1387,"height":60,
"layer":[
{"mark":{"type":"rect","color":"#d1d2d4"},"encoding":{"x":{"field":"t","type":"nominal","scale":{"domain":["lab"],"range":[501,801],"paddingInner":0,"paddingOuter":0},"axis":null}}},
{"mark":{"type":"text","align":"left","baseline":"alphabetic","fontSize":26,"fontWeight":300,"color":"#2d2d2d"},
"encoding":{"x":{"field":"t","type":"nominal","scale":{"type":"point","domain":["lab"],"range":[516,516]},"axis":null},"y":{"field":"t","type":"nominal","scale":{"type":"point","domain":["lab"],"range":[38,38]},"axis":null},"text":{"field":"lab"}}},
{"mark":{"type":"text","align":"right","baseline":"alphabetic","fontSize":38,"fontWeight":"bold","color":"#b9c234"},
"encoding":{"x":{"field":"t","type":"nominal","scale":{"type":"point","domain":["lab"],"range":[482,482]},"axis":null},"y":{"field":"t","type":"nominal","scale":{"type":"point","domain":["lab"],"range":[43,43]},"axis":null},"text":{"field":"ein","type":"quantitative","format":",d"}}},
{"mark":{"type":"text","align":"left","baseline":"alphabetic","fontSize":38,"fontWeight":"bold","color":"#004b57"},
"encoding":{"x":{"field":"t","type":"nominal","scale":{"type":"point","domain":["lab"],"range":[816,816]},"axis":null},"y":{"field":"t","type":"nominal","scale":{"type":"point","domain":["lab"],"range":[43,43]},"axis":null},"text":{"field":"aus","type":"quantitative","format":",d"}}}
],
"resolve":{"scale":{"x":"independent","y":"independent"}}},

{"data":{"name":"d"},"transform":[{"filter":"datum.k==='DIF'"}],"width":1387,"height":118,
"layer":[
{"mark":{"type":"rect","color":"#dfe5e8"},"encoding":{"x":{"field":"t","type":"nominal","scale":{"domain":["lab"],"range":[501,801],"paddingInner":0,"paddingOuter":0},"axis":null},"y":{"field":"t","type":"nominal","scale":{"domain":["lab"],"range":[2,118],"paddingInner":0,"paddingOuter":0},"axis":null}}},
{"mark":{"type":"text","align":"left","baseline":"alphabetic","fontSize":38,"fontWeight":"bold","color":"#231f20"},
"encoding":{"x":{"field":"t","type":"nominal","scale":{"type":"point","domain":["lab"],"range":[515,515]},"axis":null},"y":{"field":"t","type":"nominal","scale":{"type":"point","domain":["lab"],"range":[49,49]},"axis":null},"text":{"field":"aus","type":"quantitative","format":",d"}}},
{"mark":{"type":"text","align":"left","baseline":"alphabetic","fontSize":23,"fontWeight":300,"color":"#2d2d2d","lineBreak":"\n","lineHeight":26},
"encoding":{"x":{"field":"t","type":"nominal","scale":{"type":"point","domain":["lab"],"range":[516,516]},"axis":null},"y":{"field":"t","type":"nominal","scale":{"type":"point","domain":["lab"],"range":[81,81]},"axis":null},"text":{"field":"lab"}}},
{"mark":{"type":"text","align":"right","baseline":"alphabetic","fontSize":20,"fontWeight":300,"color":"#8c8c8c","lineBreak":"\n","lineHeight":25},
"encoding":{"x":{"field":"t","type":"nominal","scale":{"type":"point","domain":["lab"],"range":[1376,1376]},"axis":null},"y":{"field":"t","type":"nominal","scale":{"type":"point","domain":["lab"],"range":[83,83]},"axis":null},"text":{"field":"note"}}}
],
"resolve":{"scale":{"x":"independent","y":"independent"}}}
]
}
